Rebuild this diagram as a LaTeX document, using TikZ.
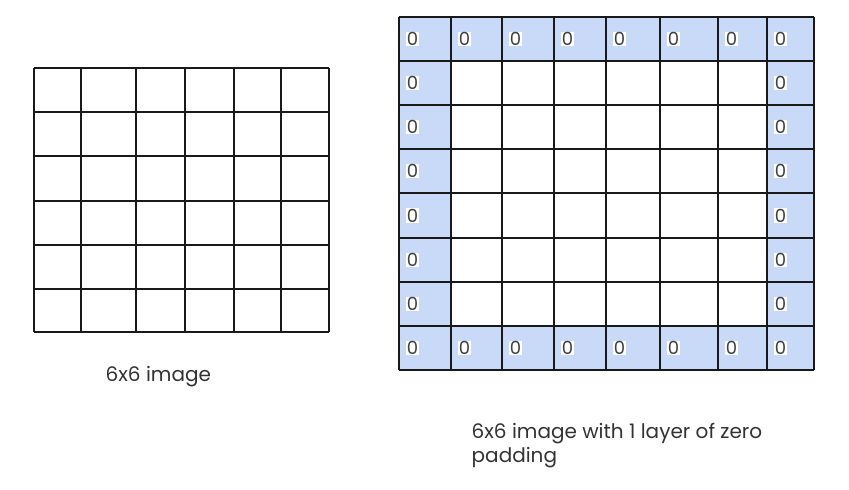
\documentclass[tikz,border=0pt]{standalone}
\usepackage{fontspec}
\setmainfont{Poppins}
\definecolor{padblue}{HTML}{C9DAF8}
\definecolor{txt}{HTML}{333333}
\begin{document}
\begin{tikzpicture}[x=0.75pt,y=-0.75pt,
  gridline/.style={line width=1.3pt,black!90},
  zero/.style={fill=white,inner xsep=0.5pt,inner ysep=0.6pt,anchor=west,font=\fontsize{13.5}{14}\selectfont,text=black!75},
  caption/.style={anchor=west,font=\fontsize{15}{18}\selectfont,text=txt,align=left}]
\useasboundingbox (0,0) rectangle (849,489);
% ---- left grid ----
\foreach \xx in {34,81,136,185,234,281,329}
  \draw[gridline] (\xx,68) -- (\xx,332);
\foreach \yy in {68,112,156,201,245,289,332}
  \draw[gridline] (34,\yy) -- (329,\yy);
% ---- right grid ----
\fill[padblue] (399,17) rectangle (814,61);
\fill[padblue] (399,326) rectangle (814,370);
\fill[padblue] (399,17) rectangle (451,370);
\fill[padblue] (767,17) rectangle (814,370);
\foreach \xx in {399,451,502,554,606,660,718,767,814}
  \draw[gridline] (\xx,17) -- (\xx,370);
\foreach \yy in {17,61,105,149,193,238,282,326,370}
  \draw[gridline] (399,\yy) -- (814,\yy);
% zeros top and bottom rows
\foreach \xx [count=\i] in {399,451,502,554,606,660,718,767}{
  \node[zero] (zt\i) at (\xx+7,39) {0};
  \node[zero] (zb\i) at (\xx+7,348) {0};
}
% zeros left and right columns
\foreach \yc [count=\j] in {83,127,171,215.5,260,304}{
  \node[zero] (zl\j) at (406,\yc) {0};
  \node[zero] (zr\j) at (774,\yc) {0};
}
% captions
\node[caption] (c1) at (101,377) {6x6 image};
\node[caption] (c2) at (467,446) {6x6 image with 1 layer of zero\\padding};
\end{tikzpicture}
\end{document}
